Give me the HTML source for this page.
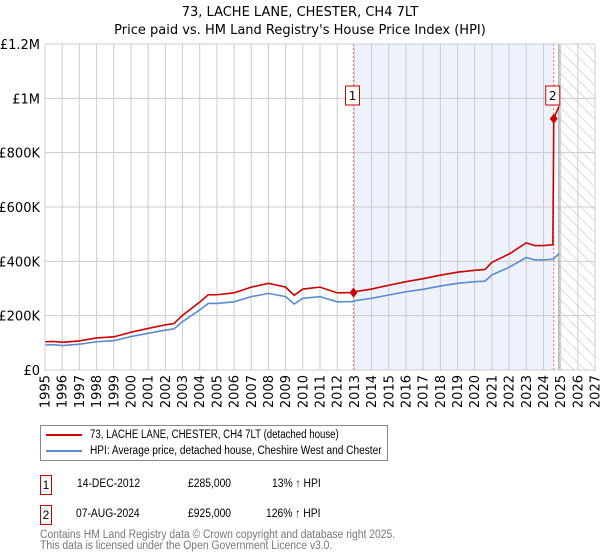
<!DOCTYPE html>
<html><head><meta charset="utf-8"><style>
body{margin:0;background:#fff;font-family:"Liberation Sans","DejaVu Sans",sans-serif;}
#wrap{position:relative;width:600px;height:560px;overflow:hidden}
.sx{display:inline-block;transform-origin:0 50%;white-space:nowrap}
</style></head><body>
<div id="wrap">
<svg id="chart" width="600" height="560" xmlns="http://www.w3.org/2000/svg" font-family="DejaVu Sans, Liberation Sans, sans-serif">
<defs>
<pattern id="hatch" width="8" height="8" patternUnits="userSpaceOnUse" patternTransform="rotate(-45)">
<line x1="0" y1="0" x2="0" y2="8" stroke="#bbb" stroke-width="1"/></pattern>
</defs>
<text x="300" y="16" text-anchor="middle" font-size="13">73, LACHE LANE, CHESTER, CH4 7LT</text>
<text x="300" y="34" text-anchor="middle" font-size="13">Price paid vs. HM Land Registry's House Price Index (HPI)</text>
<g id="plot"></g>
</svg>
<div style="position:absolute;left:40px;top:425px;width:346px;height:34px;border:1px solid #888;font-size:11.5px;font-family:'Liberation Sans',sans-serif">
 <div style="position:absolute;left:5px;top:3px;white-space:nowrap"><span style="display:inline-block;width:36px;height:2px;background:#cc0000;vertical-align:middle;margin-right:8px"></span><span class="sx" style="transform:scaleX(0.84)">73, LACHE LANE, CHESTER, CH4 7LT (detached house)</span></div>
 <div style="position:absolute;left:5px;top:19px;white-space:nowrap"><span style="display:inline-block;width:36px;height:2px;background:#5b8bd0;vertical-align:middle;margin-right:8px"></span><span class="sx" style="transform:scaleX(0.88)">HPI: Average price, detached house, Cheshire West and Chester</span></div>
</div>
<div style="font-size:12px;font-family:'Liberation Sans',sans-serif">
 <div style="position:absolute;left:40px;top:475px;width:10px;height:18px;border:1px solid #cc0000;text-align:center;line-height:18px">1</div>
 <div style="position:absolute;left:77px;top:476px"><span class="sx" style="transform:scaleX(0.86)">14-DEC-2012</span></div>
 <div style="position:absolute;left:188px;top:476px"><span class="sx" style="transform:scaleX(0.86)">£285,000</span></div>
 <div style="position:absolute;left:272px;top:476px"><span class="sx" style="transform:scaleX(0.86)">13% ↑ HPI</span></div>
 <div style="position:absolute;left:40px;top:505px;width:10px;height:18px;border:1px solid #cc0000;text-align:center;line-height:18px">2</div>
 <div style="position:absolute;left:76px;top:506px"><span class="sx" style="transform:scaleX(0.86)">07-AUG-2024</span></div>
 <div style="position:absolute;left:188px;top:506px"><span class="sx" style="transform:scaleX(0.86)">£925,000</span></div>
 <div style="position:absolute;left:266px;top:506px"><span class="sx" style="transform:scaleX(0.86)">126% ↑ HPI</span></div>
 <div style="position:absolute;left:40px;top:530px;color:#777;font-size:11.5px;line-height:11px;white-space:nowrap"><span class="sx" style="transform:scaleX(0.9)">Contains HM Land Registry data © Crown copyright and database right 2025.</span><br><span class="sx" style="transform:scaleX(0.9)">This data is licensed under the Open Government Licence v3.0.</span></div>
</div>
</div>
<script>
const dates=[1995,1995.5,1996,1997,1998,1999,2000,2001,2002,2002.5,2003,2004,2004.5,2005,2006,2007,2008,2009,2009.5,2010,2011,2012,2012.95,2013,2014,2015,2016,2017,2018,2019,2020,2020.6,2021,2022,2023,2023.5,2024,2024.55,2024.6,2024.9];
const hpiValues=[92,93,90,95,104,108,123,135,147,151,178,221,245,245,251,270,282,270,243,264,270,251,252,255,264,276,288,297,309,319,325,327,350,378,414,405,405,408,409,429];
const priceValues=[104,105,102,107,118,122,139,153,166,171,201,250,277,277,284,305,319,305,275,298,305,284,285,288,298,312,325,336,349,360,367,370,396,427,468,458,458,461,925,970];
const saleDates=[2012.95,2024.6];
const salePrices=[285,925];
const saleLabels=["1","2"];
const yTicks=[0,200,400,600,800,1000,1200];
const yTickLabels=["£0","£200K","£400K","£600K","£800K","£1M","£1.2M"];
const xTicks=[1995,1996,1997,1998,1999,2000,2001,2002,2003,2004,2005,2006,2007,2008,2009,2010,2011,2012,2013,2014,2015,2016,2017,2018,2019,2020,2021,2022,2023,2024,2025,2026,2027];
const dataEnd=2024.9;

const X0=45,X1=595,Y0=370,Y1=44;
const xs=d=>X0+(d-1995)/(2027-1995)*(X1-X0);
const ys=v=>Y0-v/1200*(Y0-Y1);
const NS="http://www.w3.org/2000/svg";
const g=document.getElementById('plot');
function mk(t,a){const e=document.createElementNS(NS,t);for(const k in a)e.setAttribute(k,a[k]);g.appendChild(e);return e;}

let e=mk('rect',{x:xs(saleDates[0]),y:Y1,width:xs(saleDates[1])-xs(saleDates[0]),height:Y0-Y1,fill:'#eef2fd'});


e=mk('rect',{x:xs(dataEnd),y:Y1,width:X1-xs(dataEnd),height:Y0-Y1,fill:'url(#hatch)'});


xTicks.forEach(t=>{
 e=mk('line',{x1:xs(t),x2:xs(t),y1:Y1,y2:Y0,stroke:'#ccc','stroke-width':1});
 
 
 e=mk('text',{x:0,y:0,transform:`translate(${xs(t)+4.5},${Y0+5}) rotate(-90)`,'text-anchor':'end','font-size':13});
 e.textContent=t;
 
 
});
yTicks.forEach((t,i)=>{
 e=mk('line',{x1:X0,x2:X1,y1:ys(t),y2:ys(t),stroke:'#ccc','stroke-width':1});
 
 
 e=mk('text',{x:40,y:ys(t)+5,'text-anchor':'end','font-size':13});
 e.textContent=yTickLabels[i];
 
 
});
e=mk('line',{x1:xs(dataEnd),x2:xs(dataEnd),y1:Y1,y2:Y0,stroke:'#888','stroke-width':1});


saleDates.forEach((d,i)=>{
 e=mk('line',{x1:xs(d),x2:xs(d),y1:Y1,y2:Y0,stroke:'#f07070','stroke-width':1,'stroke-dasharray':'2,2'});
 
 
});
e=mk('polyline',{points:dates.map((d,i)=>xs(d)+','+ys(hpiValues[i])).join(' '),fill:'none',stroke:'#5b8bd0','stroke-width':1.6});


e=mk('polyline',{points:dates.map((d,i)=>xs(d)+','+ys(priceValues[i])).join(' '),fill:'none',stroke:'#cc0000','stroke-width':1.6});


saleDates.forEach((d,i)=>{
 const cx=xs(d),cy=ys(salePrices[i]);
 e=mk('polygon',{points:`${cx},${cy-5} ${cx+4},${cy} ${cx},${cy+5} ${cx-4},${cy}`,fill:'#cc0000'});
 
 
 e=mk('rect',{x:cx-8,y:86,width:14,height:19,fill:'#fff',stroke:'#cc0000','stroke-width':1});
 
 
 e=mk('text',{x:cx-1,y:100,'text-anchor':'middle','font-size':12});
 e.textContent=saleLabels[i];
 
 
});
e=mk('rect',{x:X0,y:Y1,width:X1-X0,height:Y0-Y1,fill:'none',stroke:'#ccc','stroke-width':1});


</script>
</body></html>
